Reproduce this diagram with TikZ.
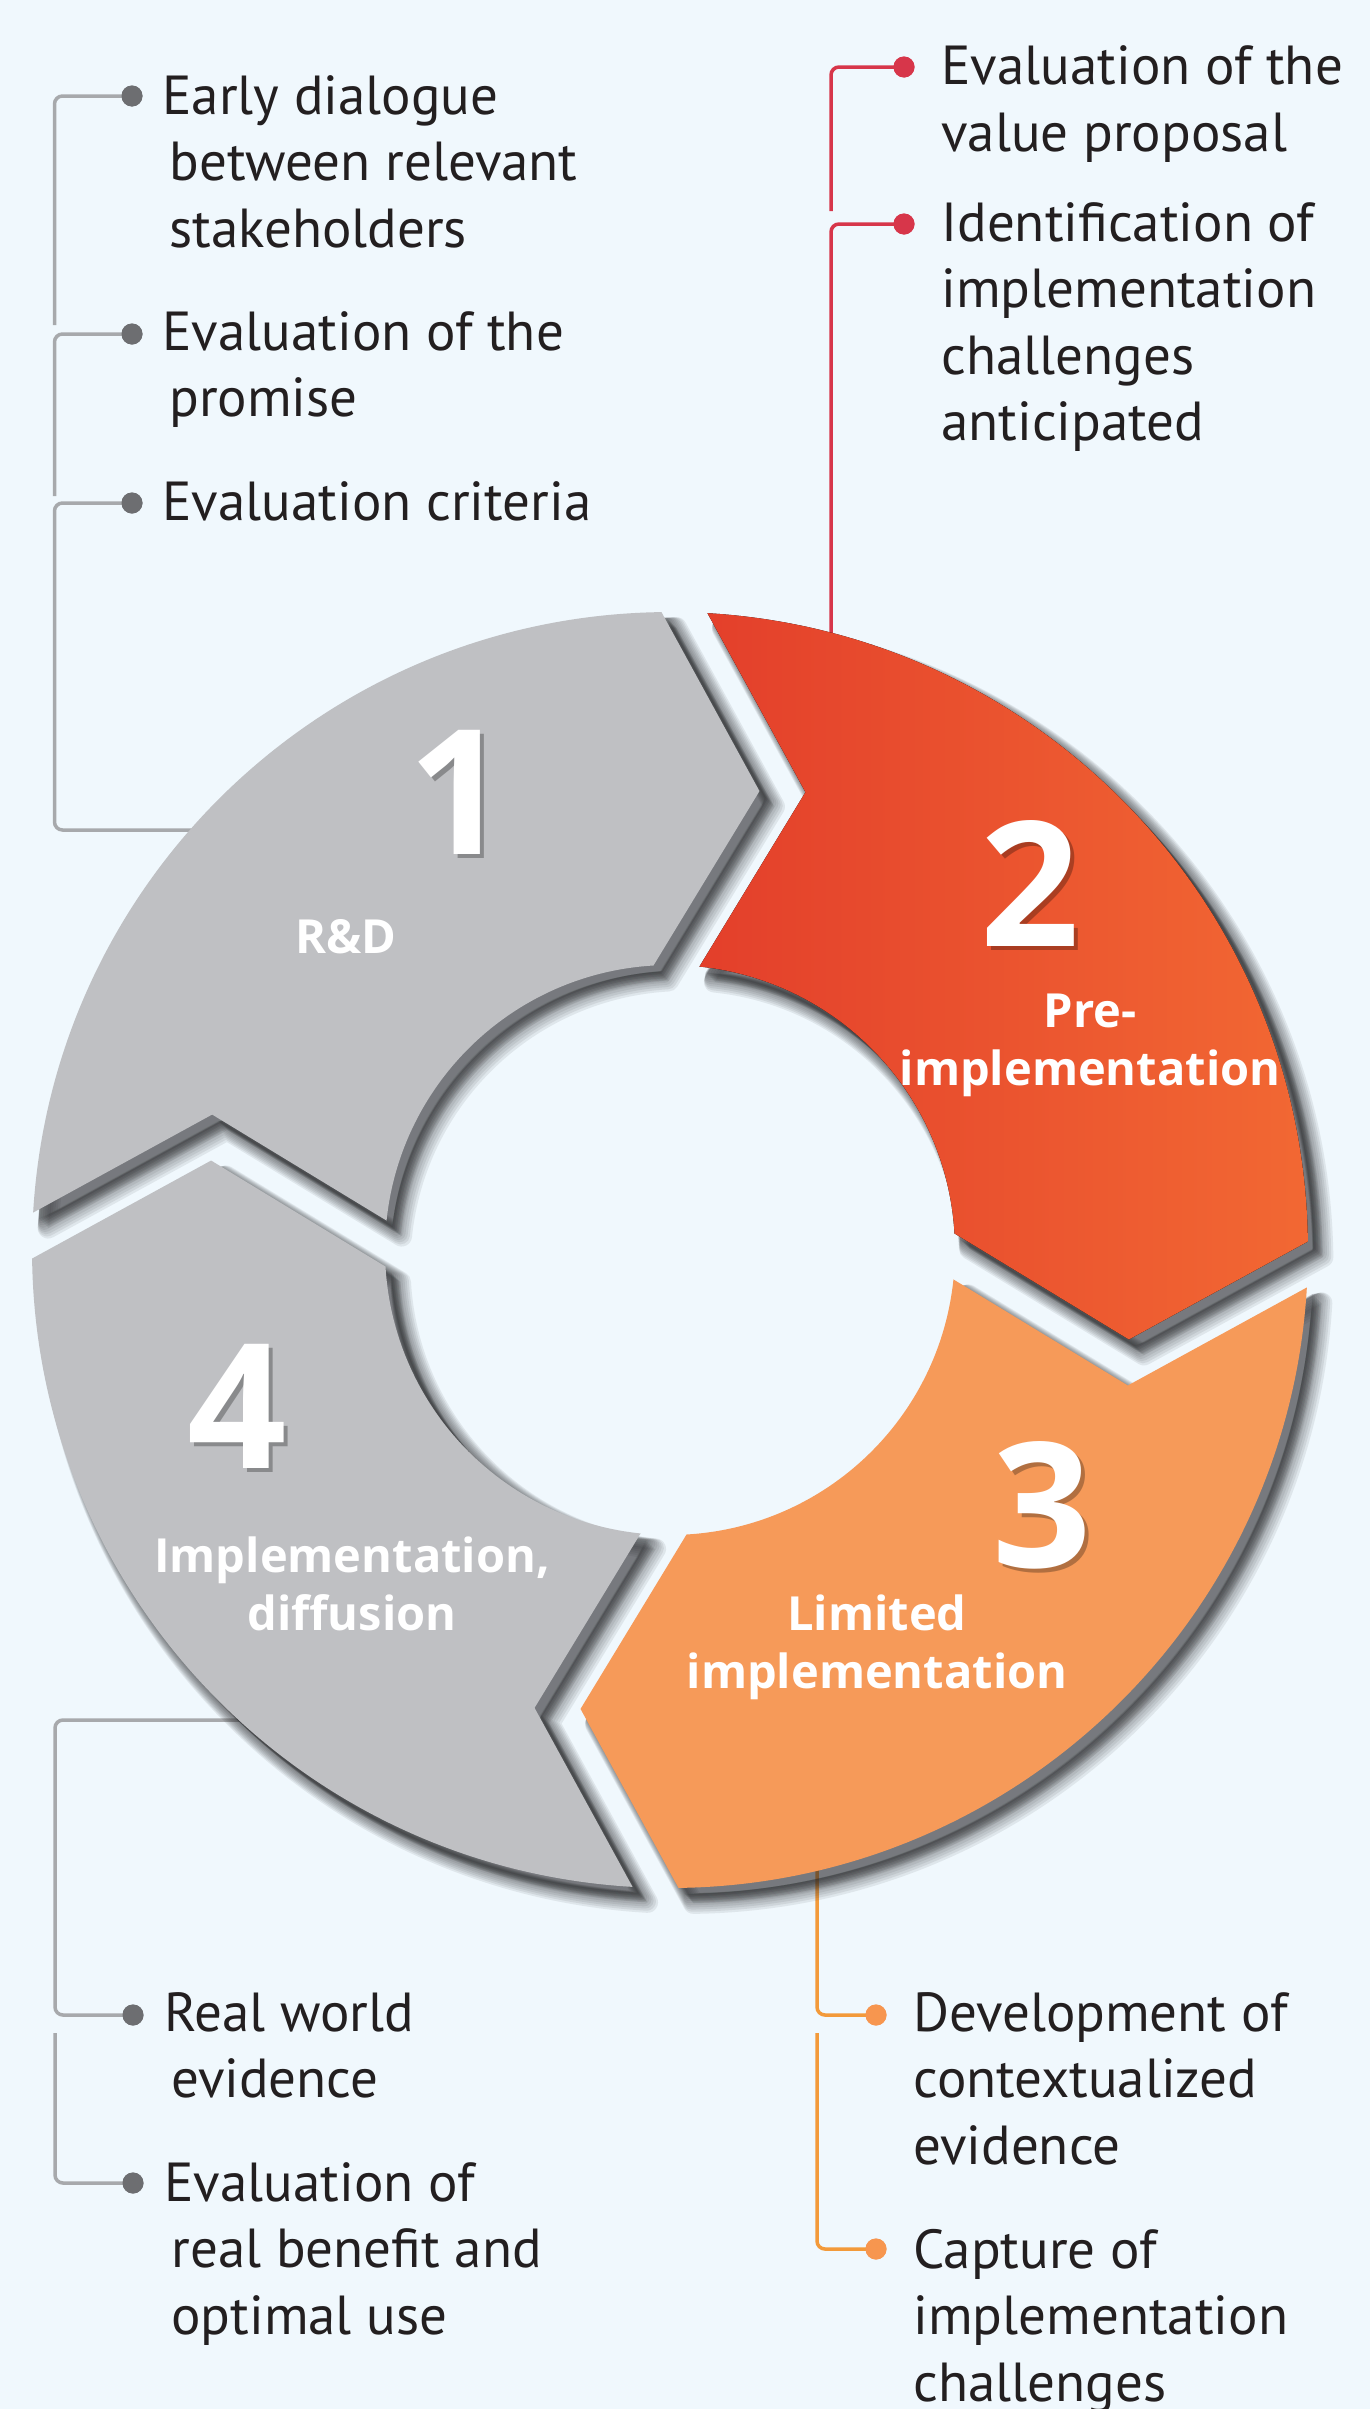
\documentclass[tikz,border=0pt]{standalone}
\usepackage{fontspec}
\setmainfont{PT Sans}
\newfontfamily\lblfont{Open Sans}

\definecolor{bg}{HTML}{F0F8FD}
\definecolor{segGray}{HTML}{BFC0C3}
\definecolor{segRedL}{HTML}{E33F2B}
\definecolor{segRedR}{HTML}{F26833}
\definecolor{segOrange}{HTML}{F69A59}
\definecolor{ink}{HTML}{231F20}
\definecolor{lineGray}{HTML}{A7A9AC}
\definecolor{dotGray}{HTML}{6D6E71}
\definecolor{lineRed}{HTML}{D7364A}
\definecolor{lineOrange}{HTML}{F39A3A}
\definecolor{dotOrange}{HTML}{F7964F}
\definecolor{shadowc}{HTML}{2A2B2D}

% One ring segment in the upper right quadrant (y axis points down):
% outer radius 638, inner radius 285, half gap 23, chevron sides at 30 degrees.
\newcommand\segshape{(-87.934:638) arc[start angle=-87.934, end angle=-2.066, radius=638]
  -- (460.83,79.05) -- (-4.629:285) arc[start angle=-4.629, end angle=-85.371, radius=285]
  -- (125.05,-460.83) -- cycle}

\tikzset{
  ring/.style={shift={(670,1250)}, rotate=-1.3},
  shadowlayer/.style={fill=shadowc, draw=shadowc, fill opacity=0.085, draw opacity=0.085, line join=round},
  num/.style={font=\lblfont\bfseries\fontsize{87pt}{87pt}\selectfont, text=white, inner sep=0pt, anchor=base},
  numshade/.style={num, text=black, text opacity=0.28},
  lbl/.style={font=\lblfont\bfseries\fontsize{23.5pt}{29pt}\selectfont, text=white, align=center, inner sep=0pt, anchor=base},
  item/.style={font=\fontsize{27.5pt}{33.25pt}\selectfont, text=ink, align=left, inner sep=0pt, anchor=base west},
  dot/.style={circle, inner sep=0pt, minimum size=10.5pt},
  conn/.style={line width=1.75pt, rounded corners=4pt},
}

% soft drop shadow of one segment, given its quarter turn:
% many faint copies, each pushed further down-right and spread wider
\newcommand\segshadow[1]{%
  \foreach \i in {0,...,9}{%
    \begin{scope}[shift={(6+\i,6.5+\i)}]
      \begin{scope}[ring, rotate=#1]
        \path[shadowlayer, line width=0.1pt+1.15pt*\i] \segshape;
      \end{scope}
    \end{scope}}}

\begin{document}
\begin{tikzpicture}[x=0.5pt, y=-0.5pt]
\useasboundingbox (0,0) rectangle (1370,2409);
\clip (0,0) rectangle (1370,2409);
\fill[bg] (0,0) rectangle (1370,2409);

% ---------- connector anchors ----------
\node[dot, fill=dotGray] (gd1) at (132,96) {};
\node[dot, fill=dotGray] (gd2) at (132,334) {};
\node[dot, fill=dotGray] (gd3) at (132,503) {};
\coordinate (gc1) at (54.5,325);
\coordinate (gc2) at (54.5,496);
\coordinate (gc3) at (54.5,830);
\coordinate (gc3e) at (300,830);

\node[dot, fill=lineRed] (rd1) at (904,67) {};
\node[dot, fill=lineRed] (rd2) at (904,224) {};
\coordinate (rc1) at (831,211);
\coordinate (rc2) at (831,700);

\node[dot, fill=dotGray] (bd1) at (133,2015) {};
\node[dot, fill=dotGray] (bd2) at (133,2183) {};
\coordinate (bs1) at (300,1720);
\coordinate (bc1) at (55,1720);
\coordinate (bc2) at (55,2033);

\node[dot, fill=dotOrange] (od1) at (876,2015) {};
\node[dot, fill=dotOrange] (od2) at (876,2249) {};
\coordinate (os1) at (817,1750);
\coordinate (oc2) at (817,2033);

% ---------- connectors ----------
\draw[conn, lineGray] (gd1.center) -| (gc1);
\draw[conn, lineGray] (gd2.center) -| (gc2);
\draw[conn, lineGray] (gd3.center) -| (gc3) -- (gc3e);
\draw[conn, lineRed] (rd1.center) -| (rc1);
\draw[conn, lineRed] (rd2.center) -| (rc2);
\draw[conn, lineGray] (bs1) -- (bc1) |- (bd1.center);
\draw[conn, lineGray] (bc2) |- (bd2.center);
\draw[conn, lineOrange] (os1) |- (od1.center);
\draw[conn, lineOrange] (oc2) |- (od2.center);

% redraw dots over line ends
\foreach \d/\c in {gd1/dotGray,gd2/dotGray,gd3/dotGray,bd1/dotGray,bd2/dotGray,rd1/lineRed,rd2/lineRed,od1/dotOrange,od2/dotOrange}
  \fill[\c] (\d) circle[radius=10.5];

% ---------- ring shadows ----------
\segshadow{90}
\segshadow{0}
\segshadow{-90}
\segshadow{180}

% ---------- ring segments ----------
\begin{scope}[ring, rotate=90]
  \fill[segGray] \segshape;
\end{scope}
\begin{scope}[ring]
  \fill[left color=segRedL, right color=segRedR] \segshape;
\end{scope}
\begin{scope}[ring, rotate=-90]
  \fill[segOrange] \segshape;
\end{scope}
\begin{scope}[ring, rotate=180]
  \fill[segGray] \segshape;
\end{scope}

% ---------- stage numbers and names (anchored at the last baseline) ----------
\node[numshade] (n1s) at (462,858) {1};
\node[num] (n1) at (458,854) {1};
\node[lbl] (l1) at (346,953) {R\&D};

\node[numshade] (n2s) at (1034,950) {2};
\node[num] (n2) at (1030,946) {2};
\node[lbl] (l2) at (1090,1085) {Pre-\\implementation};

\node[numshade] (n3s) at (1046,1571) {3};
\node[num] (n3) at (1042,1567) {3};
\node[lbl] (l3) at (877,1688) {Limited\\implementation};

\node[numshade] (n4s) at (241,1472) {4};
\node[num] (n4) at (237,1468) {4};
\node[lbl] (l4) at (352,1630) {Implementation,\\diffusion};

% ---------- item texts (anchored at the last baseline) ----------
\node[item] (t1) at (162,247) {Early dialogue\\\hspace*{3.5pt}between relevant\\\hspace*{3.5pt}stakeholders};
\node[item] (t2) at (162,416.5) {Evaluation of the\\\hspace*{3.5pt}promise};
\node[item] (t3) at (162,520) {Evaluation criteria};

\node[item] (t4) at (941,151) {Evaluation of the\\value proposal};
\node[item] (t5) at (941,440.5) {Identification of\\implementation\\challenges\\anticipated};

\node[item] (t6) at (164,2097.5) {Real world\\\hspace*{3.5pt}evidence};
\node[item] (t7) at (164,2334) {Evaluation of\\\hspace*{3.5pt}real benefit and\\\hspace*{3.5pt}optimal use};

\node[item] (t8) at (913,2164) {Development of\\contextualized\\evidence};
\node[item] (t9) at (913,2401) {Capture of\\implementation\\challenges};
\end{tikzpicture}
\end{document}
